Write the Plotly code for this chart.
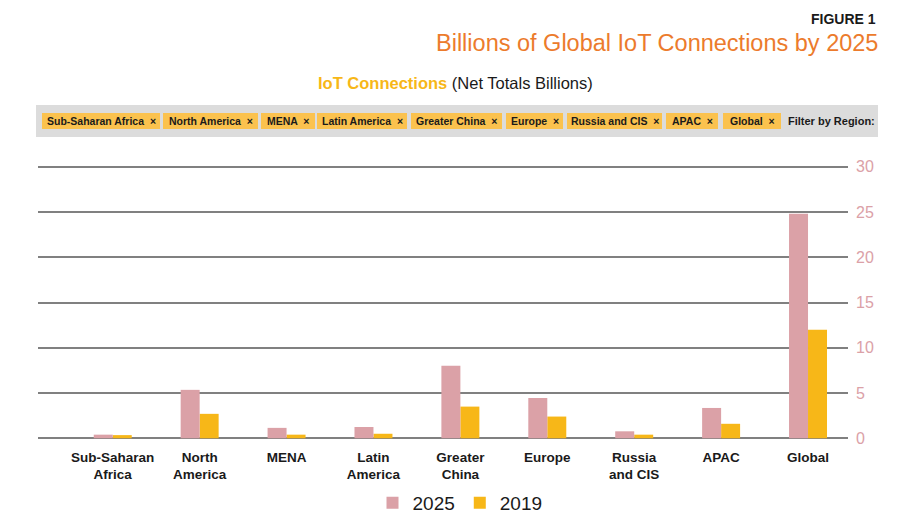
import plotly.graph_objects as go

# ── data ─────────────────────────────────────────────
regions = ['Global', 'APAC', 'Russia<br>and CIS', 'Europe', 'Greater<br>China',
           'Latin<br>America', 'MENA', 'North<br>America', 'Sub-Saharan<br>Africa']
vals_2019 = [12.0, 1.6, 0.4, 2.4, 3.5, 0.5, 0.4, 2.7, 0.35]
vals_2025 = [24.8, 3.35, 0.77, 4.45, 8.0, 1.25, 1.15, 5.35, 0.4]
y_ticks = [0, 5, 10, 15, 20, 25, 30]

chip_labels = ['Global', 'APAC', 'Russia and CIS', 'Europe', 'Greater China',
               'Latin America', 'MENA', 'North America', 'Sub-Saharan Africa']

PINK   = '#dba1a7'
YELLOW = '#f7b718'
ORANGE = '#ec7b2c'
CHIP   = '#fbc24e'
GRID   = '#808080'
FONT   = 'Liberation Sans, Arial, sans-serif'

W, H = 900, 522
OFF = 8                          # page body margin around the plot div
L, R, T, B = 38, 848, 164, 441   # plot area in page pixels


def px(x):
    return (x - L) / (R - L)


def py(y):
    return (B - y) / (B - T)


fig = go.Figure()
fig.add_trace(go.Bar(x=regions, y=vals_2019, name='2019',
                     marker=dict(color=YELLOW, line=dict(width=0))))
fig.add_trace(go.Bar(x=regions, y=vals_2025, name='2025',
                     marker=dict(color=PINK, line=dict(width=0))))

# ── header ───────────────────────────────────────────
ann = [
    dict(text='<b>FIGURE 1</b>', x=px(878), y=py(9), xanchor='right', yanchor='top',
         font=dict(size=14, color='#1a1a1a', family=FONT)),
    dict(text='Billions of Global IoT Connections by 2025', x=px(880), y=py(43),
         xanchor='right', yanchor='middle',
         font=dict(size=23.5, color=ORANGE, family=FONT)),
    dict(text='<b><span style="color:%s">IoT Connections</span></b> (Net Totals Billions)' % YELLOW,
         x=px(455), y=py(83), xanchor='center', yanchor='middle',
         font=dict(size=16.5, color='#1a1a1a', family=FONT)),
    dict(text='<b>Filter by Region:</b>', x=px(877), y=py(121), xanchor='right',
         yanchor='middle', font=dict(size=11, color='#1a1a1a', family=FONT)),
]

shapes = [dict(type='rect', xref='paper', yref='paper', x0=px(36), x1=px(878),
               y0=py(137), y1=py(105), fillcolor='#dcdcdc', line=dict(width=0),
               layer='below')]

# chip extents in pixels (left, right)
chip_px = [(723, 781), (666, 718), (567, 662), (506, 563), (411, 502),
           (317, 407), (261, 315), (163, 258), (42, 160)]
for lab, (a, b) in zip(chip_labels, chip_px):
    shapes.append(dict(type='rect', xref='paper', yref='paper', x0=px(a), x1=px(b),
                       y0=py(129), y1=py(113), fillcolor=CHIP, line=dict(width=0)))
    ann.append(dict(text='<b>%s  ×</b>' % lab, x=px((a + b) / 2), y=py(121),
                    xanchor='center', yanchor='middle',
                    font=dict(size=10.5, color='#1a1a1a', family=FONT)))

for a in ann:
    a.update(xref='paper', yref='paper', showarrow=False)

fig.update_layout(
    width=W, height=H,
    paper_bgcolor='white', plot_bgcolor='white',
    margin=dict(l=L - OFF, r=W - R + OFF, t=T - OFF, b=H - B + OFF, autoexpand=False),
    barmode='group', bargap=0.563, bargroupgap=0,
    font=dict(family=FONT, color='#1a1a1a'),
    showlegend=True,
    legend=dict(orientation='h', x=px(460), xanchor='center', y=py(503),
                yanchor='middle', traceorder='reversed',
                font=dict(size=19, color='#1a1a1a', family=FONT)),
    annotations=ann, shapes=shapes,
)

fig.update_xaxes(range=[8.86, -0.46], showgrid=False, showline=False, ticks='',
                 ticklabelstandoff=6,
                 tickfont=dict(size=13.5, color='#1a1a1a', family=FONT),
                 tickprefix='<b>', ticksuffix='</b>')
fig.update_yaxes(range=[-0.3, 30.3], side='right', tickvals=y_ticks,
                 showgrid=True, gridcolor=GRID, gridwidth=2,
                 zeroline=True, zerolinecolor=GRID, zerolinewidth=2,
                 showline=False, ticks='', ticklabelstandoff=7,
                 tickfont=dict(size=16, color=PINK, family=FONT))

fig.write_html('out.html')
